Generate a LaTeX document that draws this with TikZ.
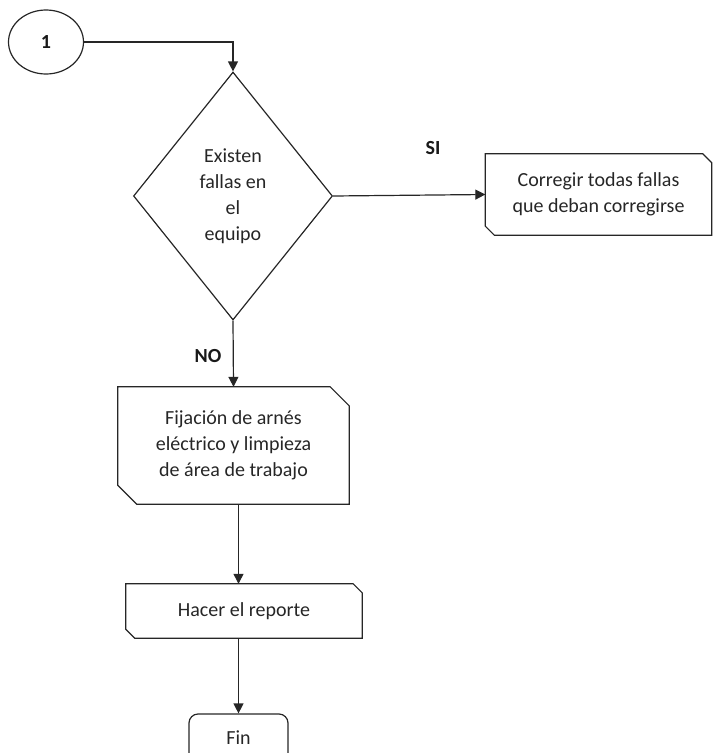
\documentclass[tikz,border=0pt]{standalone}
\usepackage{fontspec}
\setmainfont{Carlito}
\usetikzlibrary{shapes.geometric,arrows.meta,calc}

\tikzset{
  line/.style={draw=black!85, line width=1.2pt},
  arr/.style={line, -{Triangle[length=10pt,width=10pt]}},
  txt/.style={text=black!85, font=\fontsize{20}{26}\selectfont, align=center},
  lbl/.style={text=black!90, font=\fontsize{20}{26}\selectfont\bfseries},
  hold/.style={txt, draw=none, inner sep=0pt},
}

% outline of a box with the north-east and south-west corners cut off
\newcommand\cutbox[2]{%
  \draw[line] (#1.north west) -- ([xshift=-#2]#1.north east)
    -- ([yshift=-#2]#1.north east) -- (#1.south east)
    -- ([xshift=#2]#1.south west) -- ([yshift=#2]#1.south west) -- cycle;}

\begin{document}
\begin{tikzpicture}[x=1pt, y=-1pt]
  \useasboundingbox (0,0) rectangle (713,753);
  \clip (0,0) rectangle (713,753);

  % connector
  \node[line, ellipse, minimum width=75pt, minimum height=64pt, inner sep=0pt,
        lbl] (one) at (46,42) {1};

  % decision
  \node[line, diamond, minimum width=199pt, minimum height=248pt, inner sep=0pt,
        txt] (dec) at (233,196) {Existen\\fallas en\\el\\equipo};

  % process boxes
  \node[hold, minimum width=226pt, minimum height=81pt] (cor) at (598.5,194.5)
    {Corregir todas fallas\\que deban corregirse};
  \cutbox{cor}{9pt}

  \node[hold, minimum width=231pt, minimum height=117pt] (fij) at (233.5,445.5)
    {Fijación de arnés\\eléctrico y limpieza\\de área de trabajo};
  \cutbox{fij}{19pt}

  \node[hold, minimum width=236pt, minimum height=54pt] (hac) at (244,611)
    {Hacer el reporte};
  \cutbox{hac}{9pt}

  % terminator
  \node[line, rounded corners=9pt, minimum width=99pt, minimum height=48pt,
        inner sep=0pt, txt] (fin) at (238.5,738) {Fin};

  % flow
  \draw[arr] (one.east) -| (dec.north);
  \draw[arr] (dec.east) -- (cor.west);
  \draw[arr] (dec.south) -- (fij.north);
  \draw[arr] (fij.south -| fin.north) -- (hac.north -| fin.north);
  \draw[arr] (hac.south -| fin.north) -- (fin.north);

  % branch labels
  \node[lbl] (si) at (433,148) {SI};
  \node[lbl] (no) at (208,356) {NO};
\end{tikzpicture}
\end{document}
